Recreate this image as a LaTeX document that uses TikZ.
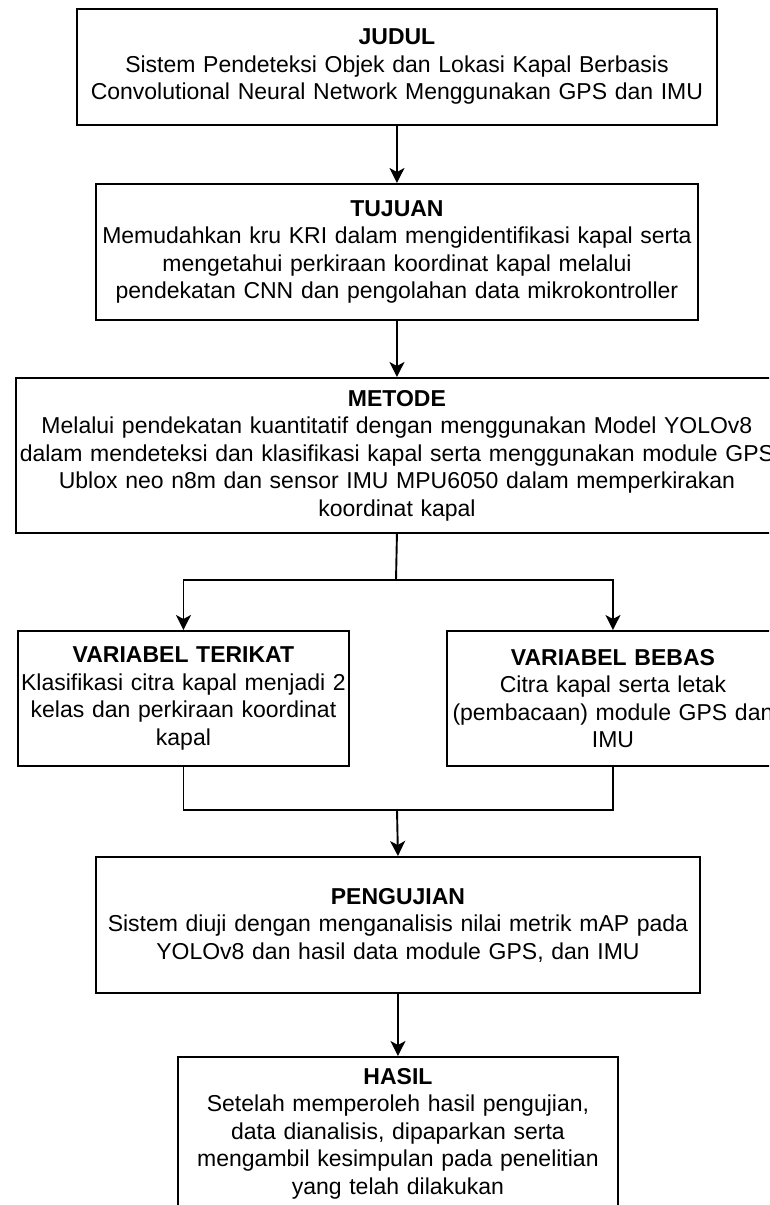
\documentclass[tikz,border=0pt]{standalone}
\usepackage{fontspec}
\setmainfont{Liberation Sans}
\usetikzlibrary{arrows.meta}
\begin{document}
\begin{tikzpicture}[x=1pt,y=-1pt,
  box/.style={draw=black, line width=1.9pt, inner xsep=0pt, inner ysep=0pt,
    align=center, anchor=north west, font=\fontsize{23}{27.5}\selectfont},
  link/.style={line width=1.9pt},
  flow/.style={link, -{Stealth[length=15pt,width=15pt,inset=4pt]}}]

\useasboundingbox (0,0) rectangle (769,1205);
\clip (0,0) rectangle (769,1205);

\node[box, text width=640pt, minimum height=116pt] (judul) at (76,8)
  {\textbf{JUDUL}\\Sistem Pendeteksi Objek dan Lokasi Kapal Berbasis\\Convolutional Neural Network Menggunakan GPS dan IMU};

\node[box, text width=602pt, minimum height=136pt] (tujuan) at (95,183)
  {\textbf{TUJUAN}\\Memudahkan kru KRI dalam mengidentifikasi kapal serta\\mengetahui perkiraan koordinat kapal melalui\\pendekatan CNN dan pengolahan data mikrokontroller};

\node[box, text width=762pt, minimum height=155pt] (metode) at (15,377)
  {\textbf{METODE}\\Melalui pendekatan kuantitatif dengan menggunakan Model YOLOv8\\dalam mendeteksi dan klasifikasi kapal serta menggunakan module GPS\\Ublox neo n8m dan sensor IMU MPU6050 dalam memperkirakan\\koordinat kapal};

\node[box, text width=331pt, minimum height=135pt] (terikat) at (17,630)
  {\textbf{VARIABEL TERIKAT}\\Klasifikasi citra kapal menjadi 2\\kelas dan perkiraan koordinat\\kapal};

\node[box, text width=332pt, minimum height=135pt] (bebas) at (446,630)
  {\textbf{VARIABEL BEBAS}\\Citra kapal serta letak\\(pembacaan) module GPS dan\\IMU};

\node[box, text width=604pt, minimum height=136pt] (uji) at (95,856)
  {\textbf{PENGUJIAN}\\Sistem diuji dengan menganalisis nilai metrik mAP pada\\YOLOv8 dan hasil data module GPS, dan IMU};

\node[box, text width=440pt, minimum height=153pt] (hasil) at (177,1056)
  {\textbf{HASIL}\\Setelah memperoleh hasil pengujian,\\data dianalisis, dipaparkan serta\\mengambil kesimpulan pada penelitian\\yang telah dilakukan};

% branch and merge points
\coordinate (split) at (396,580);
\coordinate (join) at (397,810);

\draw[flow] (judul.south) -- (tujuan.north);
\draw[flow] (tujuan.south) -- (metode.north);
\draw[link] (metode.south) -- (split);
\draw[flow] (split) -| (terikat.north);
\draw[flow] (split) -| (bebas.north);
\draw[link] (terikat.south) |- (join);
\draw[link] (bebas.south) |- (join);
\draw[flow] (join) -- (uji.north);
\draw[flow] (uji.south) -- (hasil.north);
\end{tikzpicture}
\end{document}
